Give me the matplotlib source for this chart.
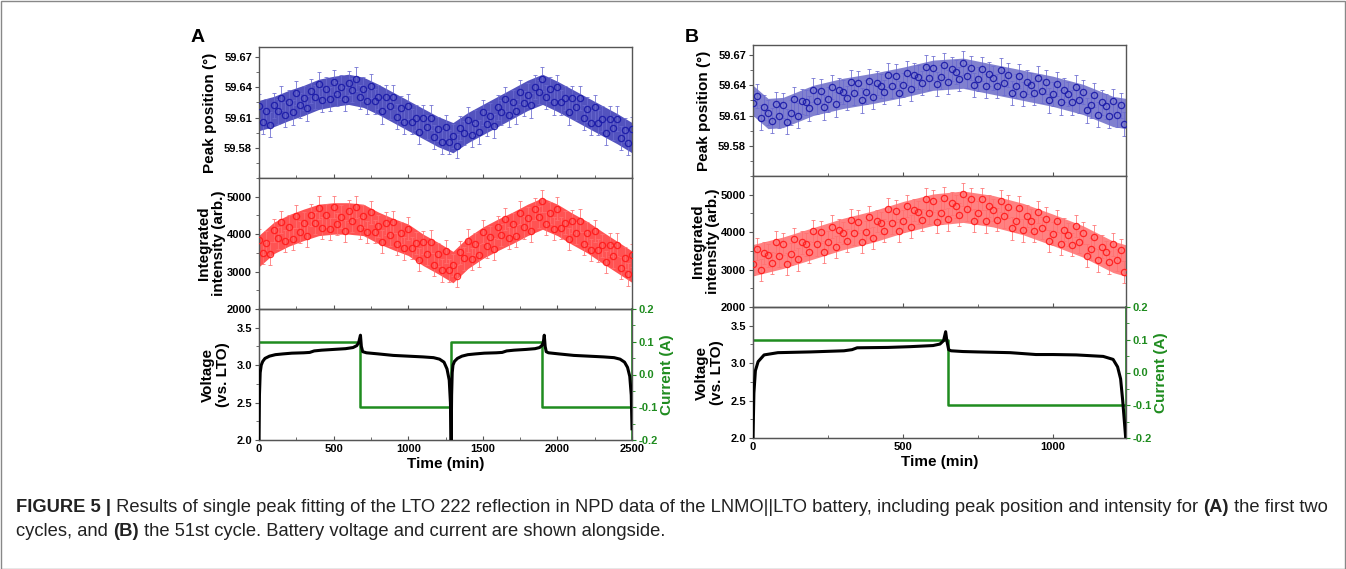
import numpy as np
import matplotlib
matplotlib.use('Agg')
import matplotlib.pyplot as plt
from matplotlib.ticker import MultipleLocator, FormatStrFormatter
from matplotlib.patches import Rectangle
from matplotlib import font_manager

plt.rcParams['font.family'] = ['Liberation Sans', 'DejaVu Sans']
plt.rcParams['font.weight'] = 'bold'
plt.rcParams['axes.labelweight'] = 'bold'

# ---------------- panel A : first two cycles (every 25 min) ----------------
t_a = np.arange(0, 2501, 25)
pos_a = [59.621, 59.606, 59.616, 59.603, 59.622, 59.616, 59.629, 59.613, 59.625, 59.615,
         59.634, 59.622, 59.629, 59.619, 59.636, 59.630, 59.643, 59.627, 59.638, 59.628,
         59.645, 59.633, 59.640, 59.628, 59.644, 59.637, 59.648, 59.630, 59.638, 59.626,
         59.641, 59.626, 59.630, 59.616, 59.630, 59.621, 59.630, 59.611, 59.619, 59.606,
         59.621, 59.606, 59.610, 59.596, 59.610, 59.601, 59.610, 59.591, 59.599, 59.586,
         59.601, 59.586, 59.592, 59.582, 59.600, 59.595, 59.608, 59.593, 59.605, 59.596,
         59.615, 59.604, 59.612, 59.602, 59.620, 59.615, 59.628, 59.613, 59.625, 59.616,
         59.635, 59.624, 59.632, 59.622, 59.640, 59.635, 59.648, 59.630, 59.638, 59.625,
         59.640, 59.625, 59.629, 59.615, 59.629, 59.620, 59.629, 59.610, 59.618, 59.605,
         59.620, 59.605, 59.609, 59.595, 59.609, 59.600, 59.609, 59.590, 59.598, 59.585,
         59.599]
inten_a = [3850, 3490, 3775, 3480, 4100, 3900, 4330, 3820, 4200, 3870,
           4475, 4060, 4300, 3950, 4515, 4300, 4710, 4160, 4500, 4140,
           4720, 4270, 4470, 4090, 4620, 4360, 4730, 4160, 4480, 4060,
           4580, 4070, 4220, 3800, 4285, 3990, 4330, 3730, 4025, 3620,
           4150, 3630, 3765, 3320, 3780, 3475, 3800, 3185, 3460, 3030,
           3540, 3030, 3170, 2885, 3510, 3355, 3830, 3340, 3735, 3430,
           4070, 3670, 3925, 3600, 4180, 3980, 4405, 3890, 4270, 3950,
           4575, 4180, 4430, 4090, 4665, 4460, 4880, 4280, 4565, 4150,
           4680, 4170, 4310, 3870, 4340, 4035, 4360, 3745, 4020, 3580,
           4085, 3565, 3700, 3255, 3720, 3405, 3720, 3095, 3360, 2925,
           3430]
pos_err_a = 0.012
inten_err_a = 300

# centre of the dense scatter band, read every 100 min
band_t_a = np.arange(0, 2501, 100)
band_pos_a = [59.612, 59.616, 59.622, 59.627, 59.633, 59.636, 59.638, 59.635, 59.628,
              59.620, 59.612, 59.604, 59.596, 59.590, 59.600, 59.608, 59.616, 59.624,
              59.632, 59.638, 59.631, 59.623, 59.615, 59.607, 59.599, 59.590]
band_int_a = [3550, 3900, 4100, 4250, 4380, 4420, 4420, 4380, 4170, 4000, 3850, 3580, 3360,
              3120, 3500, 3770, 3980, 4170, 4380, 4550, 4380, 4140, 3920, 3650, 3390, 3130]

volt_t_a = [0, 3, 8, 15, 25, 40, 70, 110, 160, 220, 300, 340, 370, 420, 500, 580, 630, 655,
            668, 675, 680, 686, 695, 720, 800, 900, 1000, 1100, 1170, 1210, 1240, 1260, 1275,
            1283, 1288, 1291, 1295, 1300, 1310, 1330, 1360, 1400, 1450, 1510, 1590, 1630,
            1660, 1710, 1790, 1850, 1880, 1895, 1905, 1912, 1918, 1925, 1940, 2010, 2110,
            2210, 2310, 2380, 2420, 2450, 2470, 2485, 2495, 2500]
volt_a = [2.0, 2.6, 2.9, 3.0, 3.05, 3.09, 3.12, 3.14, 3.15, 3.16, 3.165, 3.17, 3.19, 3.20,
          3.21, 3.22, 3.235, 3.26, 3.30, 3.36, 3.40, 3.25, 3.18, 3.165, 3.15, 3.13, 3.12,
          3.11, 3.10, 3.08, 3.04, 2.95, 2.80, 2.50, 2.0, 2.6, 2.9, 3.0, 3.05, 3.09, 3.12,
          3.14, 3.15, 3.16, 3.165, 3.17, 3.19, 3.20, 3.21, 3.22, 3.235, 3.26, 3.30, 3.40,
          3.25, 3.18, 3.165, 3.15, 3.13, 3.12, 3.11, 3.10, 3.08, 3.04, 2.97, 2.85, 2.60, 2.15]
cur_t_a = [0, 677, 1287, 1900, 2500]
cur_a = [0.1, -0.1, 0.1, -0.1, -0.1]

# ---------------- panel B : 51st cycle (every 12.5 min) ----------------
t_b = np.arange(0, 1240, 12.5)
pos_b = [59.622, 59.629, 59.608, 59.618, 59.613, 59.605, 59.621, 59.610, 59.620, 59.604,
         59.613, 59.626, 59.610, 59.624, 59.623, 59.617, 59.635, 59.624, 59.634, 59.618,
         59.626, 59.638, 59.621, 59.635, 59.633, 59.627, 59.643, 59.632, 59.642, 59.625,
         59.633, 59.644, 59.628, 59.642, 59.639, 59.633, 59.650, 59.639, 59.649, 59.632,
         59.640, 59.652, 59.636, 59.650, 59.648, 59.642, 59.658, 59.647, 59.657, 59.641,
         59.648, 59.660, 59.643, 59.656, 59.653, 59.646, 59.662, 59.649, 59.657, 59.640,
         59.646, 59.656, 59.639, 59.651, 59.647, 59.639, 59.655, 59.642, 59.650, 59.632,
         59.639, 59.649, 59.631, 59.643, 59.640, 59.632, 59.647, 59.634, 59.643, 59.625,
         59.631, 59.641, 59.623, 59.635, 59.631, 59.623, 59.638, 59.625, 59.633, 59.615,
         59.620, 59.630, 59.611, 59.623, 59.619, 59.610, 59.624, 59.611, 59.620, 59.602]
inten_b = [3150, 3550, 2990, 3440, 3380, 3175, 3730, 3365, 3680, 3150,
           3410, 3820, 3275, 3725, 3670, 3470, 4030, 3675, 4000, 3470,
           3735, 4145, 3600, 4045, 3980, 3775, 4330, 3965, 4280, 3745,
           4000, 4405, 3850, 4300, 4240, 4040, 4605, 4245, 4570, 4040,
           4300, 4705, 4150, 4595, 4530, 4325, 4880, 4515, 4830, 4280,
           4520, 4910, 4340, 4770, 4690, 4470, 5010, 4605, 4880, 4305,
           4520, 4885, 4290, 4695, 4590, 4335, 4835, 4420, 4685, 4100,
           4300, 4655, 4050, 4435, 4310, 4040, 4535, 4110, 4360, 3765,
           3960, 4300, 3685, 4065, 3935, 3665, 4160, 3730, 3980, 3370,
           3550, 3880, 3245, 3615, 3470, 3190, 3670, 3255, 3520, 2930]
pos_err_b = 0.012
inten_err_b = 300

band_t_b = [0, 50, 100, 200, 300, 400, 500, 600, 700, 800, 900, 1000, 1100, 1200, 1243]
band_pos_b = [59.625, 59.612, 59.613, 59.625, 59.632, 59.637, 59.643, 59.650, 59.652,
              59.646, 59.640, 59.634, 59.626, 59.614, 59.612]
band_int_b = [3250, 3350, 3450, 3700, 3950, 4150, 4400, 4600, 4680, 4560, 4350, 4060,
              3750, 3340, 3240]
band_hw_pos = 0.015
band_hw_int = 420

volt_t_b = [0, 3, 8, 17, 37, 83, 193, 303, 330, 347, 450, 523, 600, 623, 635, 642, 646,
            652, 660, 700, 747, 857, 943, 1000, 1077, 1167, 1200, 1215, 1225, 1232, 1238, 1242]
volt_b = [2.0, 2.6, 2.9, 3.02, 3.11, 3.14, 3.15, 3.165, 3.18, 3.205, 3.21, 3.22, 3.235,
          3.255, 3.30, 3.42, 3.30, 3.18, 3.165, 3.155, 3.15, 3.14, 3.115, 3.115, 3.11,
          3.09, 3.05, 2.95, 2.79, 2.50, 2.2, 2.0]
cur_t_b = [0, 650, 1243]
cur_b = [0.1, -0.1, -0.1]

BLUE = '#1a1aa8'
BLUE_ERR = '#6a6ad0'
RED = '#ff1a1a'
RED_ERR = '#ff7070'
GREEN = '#1f8c1f'
SPINE = '#555555'
W, H = 1346, 569


def style(ax, xmax):
    for s in ax.spines.values():
        s.set_color(SPINE)
        s.set_linewidth(1.0)
    ax.set_xlim(0, xmax)
    ax.xaxis.set_major_locator(MultipleLocator(500))
    ax.xaxis.set_minor_locator(MultipleLocator(250))
    ax.tick_params(axis='x', which='both', direction='in', length=3, color=SPINE,
                   labelsize=8, pad=3)
    ax.tick_params(axis='x', which='minor', length=2)
    ax.tick_params(axis='y', which='both', direction='out', length=3, color=SPINE,
                   labelsize=8, pad=2)
    ax.tick_params(axis='y', which='minor', length=2)


def scatter_band(ax, t, y, err, bt, bc, hw, col, ecol, dens):
    bc = np.asarray(bc)
    ax.fill_between(bt, bc - hw, bc + hw, color=col, alpha=dens, lw=0, zorder=1)
    ax.errorbar(t, y, yerr=err, fmt='none', ecolor=ecol, elinewidth=0.7,
                capsize=1.6, capthick=0.7, alpha=0.8, zorder=2)
    ax.plot(t, y, 'o', ms=4.5, mfc='none', mec=col, mew=0.9, alpha=0.9, zorder=3)


def panel(x0, y_top, d, xmax, letter, dens):
    left = x0 / W
    width = 373 / W
    h = 131
    axes = []
    for k in range(3):
        top = y_top + k * h
        axes.append(plt.axes([left, 1 - (top + h) / H, width, h / H]))
    ax1, ax2, ax3 = axes

    scatter_band(ax1, d['t'], d['pos'], d['pos_err'], d['bt'], d['bpos'], band_hw_pos,
                 BLUE, BLUE_ERR, dens)
    ax1.set_ylim(59.55, 59.68)
    ax1.set_yticks([59.58, 59.61, 59.64, 59.67])
    ax1.yaxis.set_minor_locator(plt.FixedLocator([59.565, 59.595, 59.625, 59.655]))
    ax1.yaxis.set_major_formatter(FormatStrFormatter('%.2f'))
    ax1.set_ylabel('Peak position (°)', fontsize=11)
    ax1.yaxis.set_label_coords(-0.112, 0.5)

    scatter_band(ax2, d['t'], d['int'], d['int_err'], d['bt'], d['bint'], band_hw_int,
                 RED, RED_ERR, dens)
    ax2.set_ylim(2000, 5500)
    ax2.set_yticks([2000, 3000, 4000, 5000])
    ax2.yaxis.set_minor_locator(MultipleLocator(500))
    ax2.set_ylabel('Integrated\nintensity (arb.)', fontsize=11, linespacing=1.1)
    ax2.yaxis.set_label_coords(-0.088, 0.5)

    ax3.plot(d['vt'], d['v'], color='black', lw=2.2, zorder=3)
    ax3.set_ylim(2.0, 3.75)
    ax3.set_yticks([2.0, 2.5, 3.0, 3.5])
    ax3.yaxis.set_minor_locator(MultipleLocator(0.25))
    ax3.yaxis.set_major_formatter(FormatStrFormatter('%.1f'))
    ax3.set_ylabel('Voltage\n(vs. LTO)', fontsize=11, linespacing=1.1)
    ax3.yaxis.set_label_coords(-0.078, 0.5)
    ax3.set_xlabel('Time (min)', fontsize=11, labelpad=2)

    tw = ax3.twinx()
    tw.step(d['ct'], d['c'], where='post', color=GREEN, lw=1.8)
    tw.set_ylim(-0.2, 0.2)
    tw.set_yticks([-0.2, -0.1, 0.0, 0.1, 0.2])
    tw.yaxis.set_minor_locator(MultipleLocator(0.05))
    tw.yaxis.set_major_formatter(FormatStrFormatter('%.1f'))
    tw.tick_params(axis='y', which='both', direction='out', length=3, color=GREEN,
                   labelcolor=GREEN, labelsize=8, pad=2)
    tw.tick_params(axis='y', which='minor', length=2)
    tw.set_ylabel('Current (A)', fontsize=11, color=GREEN)
    tw.yaxis.set_label_coords(1.075, 0.5)
    ax3.set_zorder(tw.get_zorder() + 1)
    ax3.patch.set_visible(False)

    for ax in axes:
        style(ax, xmax)
    for s in tw.spines.values():
        s.set_color(SPINE)
    tw.spines['right'].set_color(GREEN)
    tw.spines['right'].set_linewidth(1.2)
    ax1.tick_params(axis='x', labelbottom=False)
    ax2.tick_params(axis='x', labelbottom=False)

    fig.text((x0 - 61) / W, 1 - 37 / H, letter, fontsize=14, fontweight='bold',
             ha='center', va='center')


fig = plt.figure(figsize=(W / 100, H / 100), dpi=100)

panel(259, 47, dict(t=t_a, pos=pos_a, pos_err=pos_err_a, int=inten_a, int_err=inten_err_a,
                    bt=band_t_a, bpos=band_pos_a, bint=band_int_a,
                    vt=volt_t_a, v=volt_a, ct=cur_t_a, c=cur_a), 2500, 'A', 0.75)
panel(753, 45, dict(t=t_b, pos=pos_b, pos_err=pos_err_b, int=inten_b, int_err=inten_err_b,
                    bt=band_t_b, bpos=band_pos_b, bint=band_int_b,
                    vt=volt_t_b, v=volt_b, ct=cur_t_b, c=cur_b), 1243, 'B', 0.55)

# caption
names = {f.name for f in font_manager.fontManager.ttflist}
cap_font = 'Liberation Sans Narrow' if 'Liberation Sans Narrow' in names else 'Liberation Sans'
line1 = [('FIGURE 5 |', 'bold'),
         (' Results of single peak fitting of the LTO 222 reflection in NPD data of the '
          'LNMO||LTO battery, including peak position and intensity for ', 'normal'),
         ('(A)', 'bold'), (' the first two', 'normal')]
line2 = [('cycles, and ', 'normal'), ('(B)', 'bold'),
         (' the 51st cycle. Battery voltage and current are shown alongside.', 'normal')]

renderer = fig.canvas.get_renderer()


def rich_line(x, y, parts, size):
    made = []
    for s, w in parts:
        txt = fig.text(x, y, s, fontsize=size, fontweight=w, family=cap_font,
                       va='center', ha='left', color='#222222')
        x += txt.get_window_extent(renderer).width / fig.bbox.width
        made.append(txt)
    return made, x


trial, x_end = rich_line(16 / W, 1 - 507 / H, line1, 10)
cap_size = 10 * (1330 - 16) / W / (x_end - 16 / W)
for t in trial:
    t.remove()
rich_line(16 / W, 1 - 507 / H, line1, cap_size)
rich_line(16 / W, 1 - 531 / H, line2, cap_size)

fig.patches.append(Rectangle((0.5 / W, 0.5 / H), 1 - 1.5 / W, 1 - 1.5 / H,
                             transform=fig.transFigure, fill=False,
                             edgecolor='#888888', lw=1))

fig.savefig('out.png', dpi=100)
